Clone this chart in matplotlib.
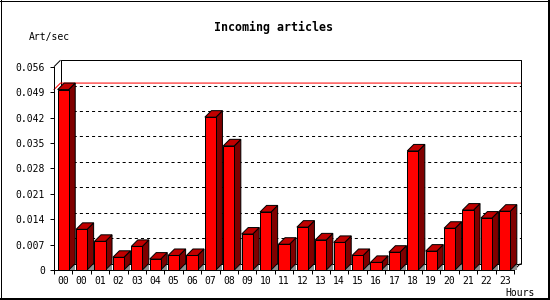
import matplotlib
matplotlib.use("Agg")
import matplotlib.pyplot as plt
from matplotlib.patches import Polygon
from matplotlib.lines import Line2D

# ---------------- data ----------------
hour_labels = ["00", "00", "01", "02", "03", "04", "05", "06", "07", "08", "09", "10",
               "11", "12", "13", "14", "15", "16", "17", "18", "19", "20", "21", "22", "23"]
art_per_sec = [0.0497, 0.0112, 0.0079, 0.0035, 0.0065, 0.0030, 0.0040, 0.0040,
               0.0421, 0.0342, 0.0099, 0.0160, 0.0071, 0.0118, 0.0083, 0.0076,
               0.0040, 0.0021, 0.0049, 0.0328, 0.0052, 0.0115, 0.0165, 0.0143, 0.0162]
y_ticks = [0, 0.007, 0.014, 0.021, 0.028, 0.035, 0.042, 0.049, 0.056]
y_tick_labels = ["0", "0.007", "0.014", "0.021", "0.028", "0.035", "0.042", "0.049", "0.056"]
title = "Incoming articles"
y_title = "Art/sec"
x_title = "Hours"

# ---------------- layout ----------------
plt.rcParams['font.family'] = ['DejaVu Sans Mono']
plt.rcParams['lines.scale_dashes'] = False
W, H, DPI = 550, 300, 100
fig = plt.figure(figsize=(W / DPI, H / DPI), dpi=DPI)
fig.patch.set_facecolor("white")

front_left, front_right = 54.0, 514.0
front_bottom, front_top = 270.0, 66.7
depth = 6.5
n = len(art_per_sec)
ymax = y_ticks[-1]
dxu = depth * n / (front_right - front_left)
dyu = depth * ymax / (front_bottom - front_top)

ax = fig.add_axes([front_left / W, 1 - front_bottom / H,
                   (front_right + depth - front_left) / W,
                   (front_bottom - front_top + depth) / H])
ax.set_xlim(-0.5, n - 0.5 + dxu)
ax.set_ylim(0, ymax + dyu)
ax.patch.set_alpha(0)

px = 0.72  # 1 pixel in points
for s in ["top", "right"]:
    ax.spines[s].set_visible(False)
ax.spines["left"].set_bounds(0, ymax)
ax.spines["bottom"].set_bounds(-0.5, n - 0.5)
for s in ["left", "bottom"]:
    ax.spines[s].set_linewidth(px)
    ax.spines[s].set_zorder(6)

ax.set_yticks(y_ticks)
ax.set_yticklabels(y_tick_labels)
ax.tick_params(axis="y", direction="out", length=4 * px, width=px, pad=3.5, labelsize=7)
ax.set_xticks(range(n))
ax.set_xticklabels(hour_labels)
ax.set_xticks([i - 0.5 for i in range(n + 1)], minor=True)
ax.tick_params(axis="x", which="major", length=0, pad=4.5, labelsize=7)
ax.tick_params(axis="x", which="minor", direction="out", length=4 * px, width=px)

# back wall and box
bx0, bx1 = -0.5 + dxu, n - 0.5 + dxu
by0, by1 = dyu, ymax + dyu
k = dict(color="black", lw=px, zorder=1, solid_capstyle="butt", clip_on=False)
ax.plot([bx0, bx0, bx1, bx1], [by0, by1, by1, by0], **k)
ax.plot([bx0, bx1], [by0, by0], **k)
ax.plot([-0.5, bx0], [ymax, by1], **k)
ax.plot([n - 0.5, bx1], [0, by0], **k)

# grid lines on back wall
for t in y_ticks[1:-1]:
    ax.plot([bx0, bx1], [t + dyu, t + dyu], color="black", lw=px,
            dashes=(2.2, 2.2), zorder=1, clip_on=False)

# max line
vmax = max(art_per_sec)
ax.plot([-0.5, bx0, bx1], [vmax, vmax + dyu, vmax + dyu], color="#ff0000", lw=px,
        zorder=1.5, clip_on=False)

# bars
hw = 0.3
for i, v in enumerate(art_per_sec):
    xl, xr = i - hw, i + hw
    shadow = Polygon([(xr, 0), (xr + dxu, 0), (xr + dxu, dyu)], closed=True,
                     facecolor="#909090", edgecolor="none", zorder=2)
    side = Polygon([(xr, 0), (xr + dxu, dyu), (xr + dxu, v + dyu), (xr, v)], closed=True,
                   facecolor="#800000", edgecolor="black", lw=px, zorder=3)
    top = Polygon([(xl, v), (xl + dxu, v + dyu), (xr + dxu, v + dyu), (xr, v)], closed=True,
                  facecolor="#c00000", edgecolor="black", lw=px, zorder=3)
    front = Polygon([(xl, 0), (xl, v), (xr, v), (xr, 0)], closed=True,
                    facecolor="#ff0000", edgecolor="black", lw=px, zorder=4)
    for p in (shadow, side, top, front):
        p.set_clip_on(False)
        ax.add_patch(p)

# texts
fig.text(273.5 / W, 1 - 27 / H, title, ha="center", va="center",
         fontsize=8.4, fontweight="bold")
fig.text(29 / W, 1 - 37 / H, y_title, ha="left", va="center", fontsize=7)
fig.text(505 / W, 1 - 292.5 / H, x_title, ha="left", va="center", fontsize=7)

# outer frame
fig.add_artist(Line2D([0.5 / W, 0.5 / W], [0, 1], color="black", lw=px, transform=fig.transFigure))
fig.add_artist(Line2D([0, 1], [1 - 0.5 / H, 1 - 0.5 / H], color="black", lw=px, transform=fig.transFigure))
fig.add_artist(Line2D([1 - 1 / W, 1 - 1 / W], [0, 1], color="black", lw=2 * px, transform=fig.transFigure))
fig.add_artist(Line2D([0, 1], [1 / H, 1 / H], color="black", lw=2 * px, transform=fig.transFigure))

fig.savefig("out.png", dpi=DPI)
